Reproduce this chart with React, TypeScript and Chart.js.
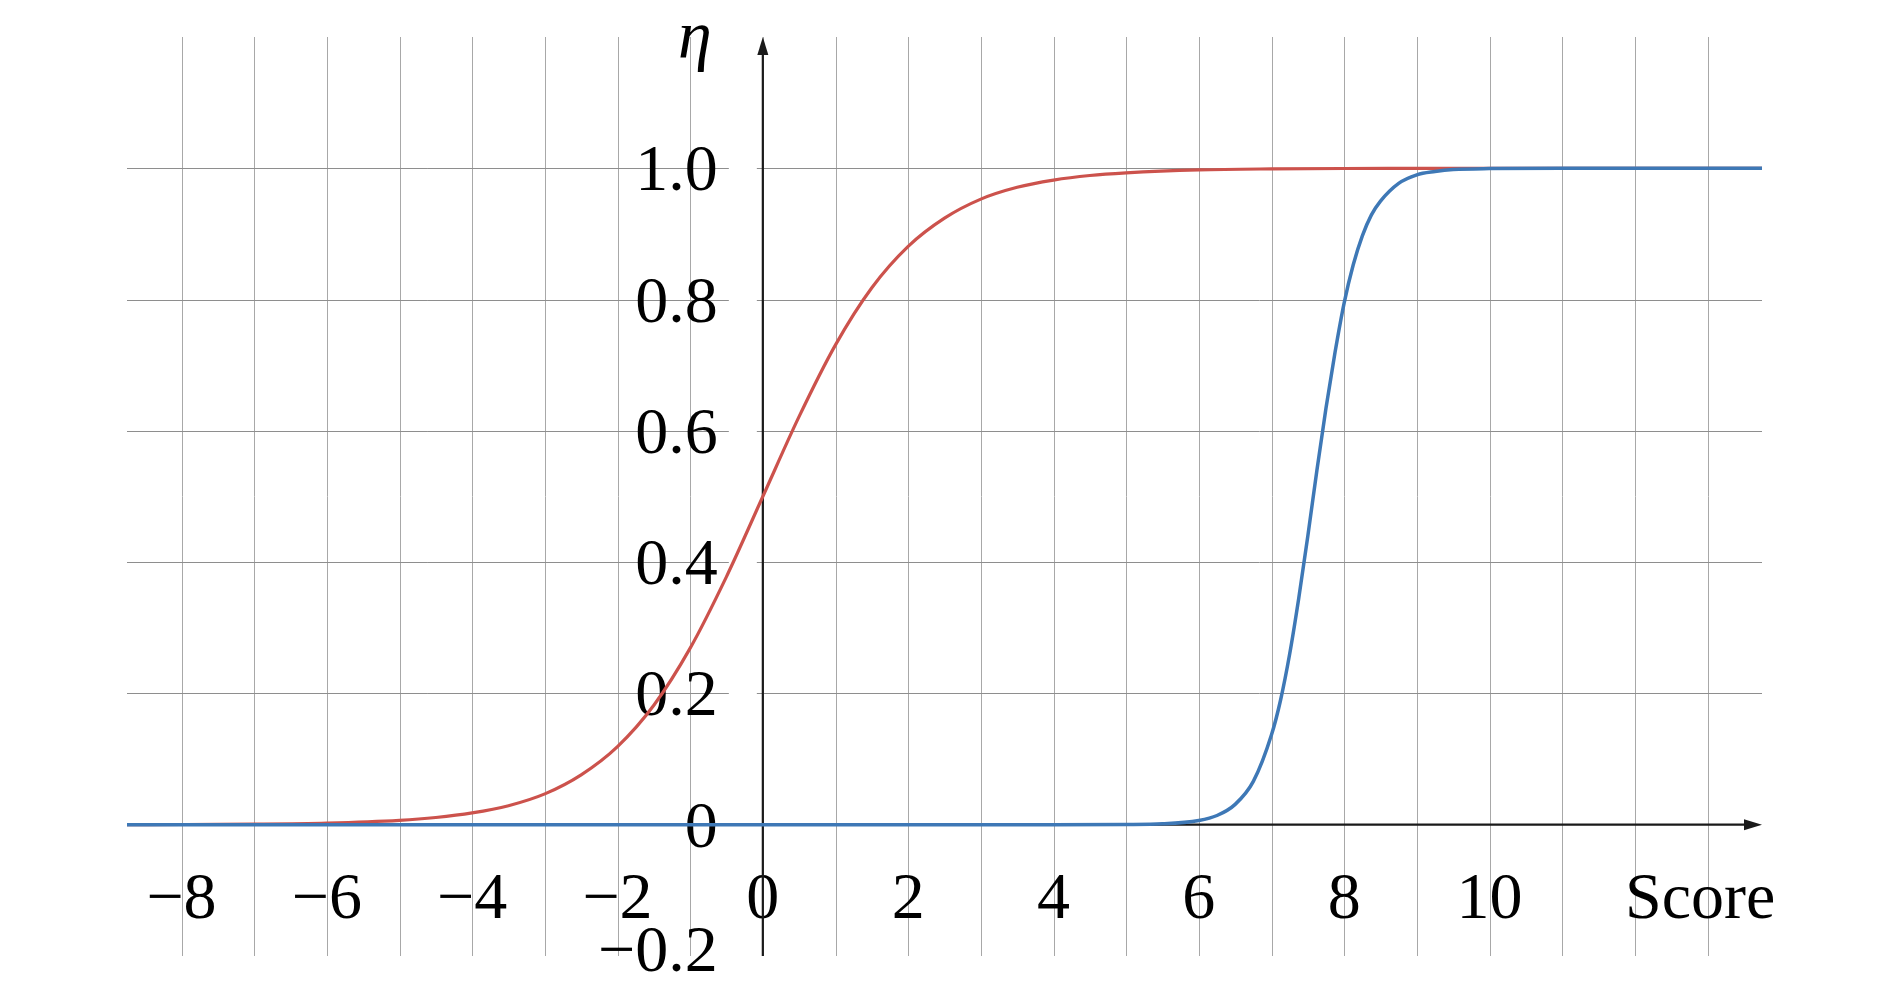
import React, { useEffect, useRef } from "react";
import { Chart, registerables } from "chart.js";

Chart.register(...registerables);

// Red curve (score values and η values)
const redX = [-8.75, -8, -7, -6, -5, -4.5, -4, -3.5, -3, -2.5, -2, -1.5, -1, -0.5, 0, 0.5, 1, 1.5, 2, 2.5, 3, 3.5, 4, 4.5, 5, 6, 7, 8, 9, 10, 13.75];
const redY = [0.0002, 0.0003, 0.0009, 0.0025, 0.0067, 0.011, 0.018, 0.029, 0.047, 0.076, 0.119, 0.182, 0.269, 0.378, 0.5, 0.622, 0.731, 0.818, 0.881, 0.924, 0.953, 0.971, 0.982, 0.989, 0.993, 0.9975, 0.9991, 0.9997, 0.9999, 1, 1];

// Blue curve
const blueX = [-8.75, 0, 4, 5, 5.5, 6, 6.25, 6.5, 6.75, 7, 7.125, 7.25, 7.375, 7.5, 7.625, 7.75, 7.875, 8, 8.125, 8.25, 8.375, 8.5, 8.75, 9, 9.25, 9.5, 10, 11, 13.75];
const blueY = [0, 0, 0, 0.0003, 0.0013, 0.0065, 0.014, 0.031, 0.066, 0.137, 0.19, 0.26, 0.345, 0.44, 0.54, 0.635, 0.72, 0.795, 0.853, 0.897, 0.929, 0.95, 0.977, 0.99, 0.995, 0.998, 0.9995, 1, 1];

// Axes, grid and tick labels
const xMin = -8.75;
const xMax = 13.75;
const yMin = -0.2;
const yMax = 1.2;
const xGridValues = [-8, -7, -6, -5, -4, -3, -2, -1, 0, 1, 2, 3, 4, 5, 6, 7, 8, 9, 10, 11, 12, 13];
const yGridValues = [0.2, 0.4, 0.6, 0.8, 1.0];
const xTickValues = [-8, -6, -4, -2, 0, 2, 4, 6, 8, 10];
const xTickLabels = ["−8", "−6", "−4", "−2", "0", "2", "4", "6", "8", "10"];
const yTickValues = [-0.2, 0, 0.2, 0.4, 0.6, 0.8, 1.0];
const yTickLabels = ["−0.2", "0", "0.2", "0.4", "0.6", "0.8", "1.0"];
const xAxisTitle = "Score";
const yAxisTitle = "η";

const RED = "rgb(204, 82, 76)";
const BLUE = "rgb(62, 120, 182)";
const FONT = "66px 'Liberation Serif', 'DejaVu Serif', serif";
const FONT_IT = "italic 68px 'Liberation Serif', 'DejaVu Serif', serif";

const decorPlugin = {
  id: "decor",
  beforeDatasetsDraw(chart: any) {
    const { ctx, scales, chartArea: a } = chart;
    const x = scales.x;
    const y = scales.y;
    const ax = x.getPixelForValue(0);
    const ay = y.getPixelForValue(0);
    ctx.save();

    // vertical grid
    ctx.lineWidth = 1;
    ctx.strokeStyle = "#a8a8a8";
    for (const v of xGridValues) {
      const px = Math.round(x.getPixelForValue(v)) + 0.5;
      ctx.beginPath();
      ctx.moveTo(px, a.top);
      ctx.lineTo(px, a.bottom);
      ctx.stroke();
    }
    // horizontal grid (with small gap left of the y axis)
    ctx.strokeStyle = "#8e8e8e";
    for (const v of yGridValues) {
      const py = Math.round(y.getPixelForValue(v)) + 0.5;
      ctx.beginPath();
      ctx.moveTo(a.left, py);
      ctx.lineTo(ax - 34, py);
      ctx.moveTo(ax - 6, py);
      ctx.lineTo(a.right, py);
      ctx.stroke();
    }

    // tick labels
    ctx.fillStyle = "#000";
    ctx.font = FONT;
    ctx.textAlign = "center";
    ctx.textBaseline = "alphabetic";
    xTickValues.forEach((v, i) => {
      ctx.fillText(xTickLabels[i], x.getPixelForValue(v), ay + 93);
    });
    ctx.textAlign = "right";
    yTickValues.forEach((v, i) => {
      let cy = y.getPixelForValue(v);
      if (v < 0) cy -= 7;
      ctx.fillText(yTickLabels[i], ax - 45, cy + 22);
    });
    // axis titles
    ctx.textAlign = "center";
    ctx.fillText(xAxisTitle, x.getPixelForValue(12.9), ay + 93);
    ctx.font = FONT_IT;
    ctx.fillText(yAxisTitle, ax - 68, 58);

    // axes with arrows
    ctx.strokeStyle = "#1a1a1a";
    ctx.fillStyle = "#1a1a1a";
    ctx.lineWidth = 2.2;
    ctx.beginPath();
    ctx.moveTo(a.left, ay);
    ctx.lineTo(a.right - 14, ay);
    ctx.moveTo(ax, a.bottom);
    ctx.lineTo(ax, a.top + 14);
    ctx.stroke();
    ctx.beginPath();
    ctx.moveTo(a.right, ay);
    ctx.lineTo(a.right - 18, ay - 5.5);
    ctx.lineTo(a.right - 18, ay + 5.5);
    ctx.closePath();
    ctx.fill();
    ctx.beginPath();
    ctx.moveTo(ax, a.top);
    ctx.lineTo(ax - 5.5, a.top + 18);
    ctx.lineTo(ax + 5.5, a.top + 18);
    ctx.closePath();
    ctx.fill();
    ctx.restore();
  },
};

export default function App() {
  const ref = useRef<HTMLCanvasElement>(null);
  useEffect(() => {
    if (!ref.current) return;
    const chart = new Chart(ref.current, {
      type: "line",
      data: {
        datasets: [
          {
            label: "blue",
            data: blueX.map((v, i) => ({ x: v, y: blueY[i] })),
            borderColor: BLUE,
            borderWidth: 3.5,
            pointRadius: 0,
            cubicInterpolationMode: "monotone",
            fill: false,
          },
          {
            label: "red",
            data: redX.map((v, i) => ({ x: v, y: redY[i] })),
            borderColor: RED,
            borderWidth: 3.2,
            pointRadius: 0,
            cubicInterpolationMode: "monotone",
            fill: false,
          },
        ],
      },
      options: {
        animation: false,
        responsive: false,
        layout: { padding: { left: 127, right: 128, top: 37, bottom: 36 } },
        plugins: { legend: { display: false }, tooltip: { enabled: false } },
        scales: {
          x: { type: "linear", min: xMin, max: xMax, display: false },
          y: { type: "linear", min: yMin, max: yMax, display: false },
        },
      },
      plugins: [decorPlugin],
    });
    return () => chart.destroy();
  }, []);
  return (
    <div style={{ position: "absolute", left: 0, top: 0, width: 1890, height: 992, background: "#fff" }}>
      <canvas ref={ref} width={1890} height={992} style={{ display: "block" }} />
    </div>
  );
}
